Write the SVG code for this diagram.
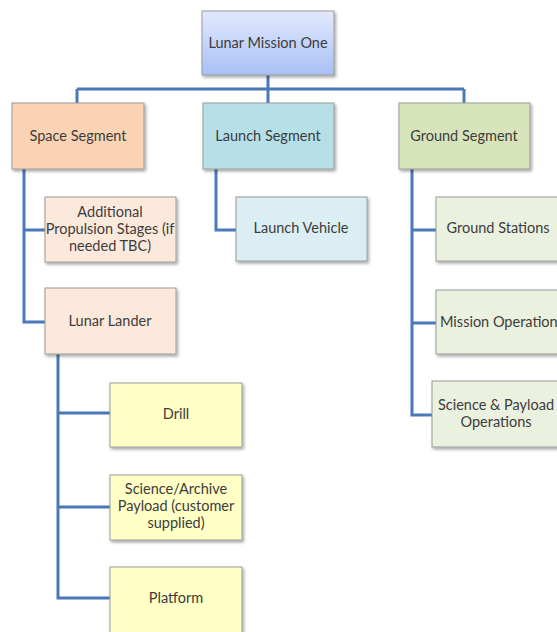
<svg xmlns="http://www.w3.org/2000/svg" width="557" height="632" viewBox="0 0 557 632">
<defs>
<filter id="sh" x="-10%" y="-10%" width="130%" height="130%">
<feDropShadow dx="1.5" dy="2" stdDeviation="1.5" flood-color="#000" flood-opacity="0.35"/>
</filter>
<linearGradient id="gRoot" x1="0" y1="0" x2="0" y2="1">
<stop offset="0" stop-color="#e2e9fc"/><stop offset="1" stop-color="#a8c0f6"/>
</linearGradient>
</defs>
<style>
.box{stroke:#9a9a9a;stroke-width:1;filter:url(#sh)}
.t{font-family:Lato,"Open Sans","Liberation Sans",sans-serif;font-size:14.5px;fill:#3c3c3c;text-anchor:middle}
.c{fill:none;stroke:#4a78b8;stroke-width:3}
.root{fill:url(#gRoot)}
.space{fill:#fad3b4}
.launch{fill:#b7dfe8}
.ground{fill:#d7e4bb}
.spaceC{fill:#fce9db}
.launchC{fill:#dbeef4}
.groundC{fill:#ebf1df}
.yel{fill:#ffffc6}
</style>
<g id="connectors">
<path class="c" d="M268 75V89M77 89H464M77 89V103M268 89V103M464 89V103"/>
<path class="c" d="M24 169V322H45M24 230H45"/>
<path class="c" d="M216 169V230H236"/>
<path class="c" d="M412 169V415H432M412 230H436M412 323H436"/>
<path class="c" d="M58 354V598H110M58 413H110M58 507H110"/>
</g>
<g id="n-root"><rect class="box root" x="202" y="11" width="132" height="64"/><text class="t" x="268" y="48">Lunar Mission One</text></g>
<g id="n-space"><rect class="box space" x="12" y="103" width="132" height="66"/><text class="t" x="78" y="141">Space Segment</text></g>
<g id="n-launch"><rect class="box launch" x="203" y="103" width="131" height="66"/><text class="t" x="268" y="141">Launch Segment</text></g>
<g id="n-ground"><rect class="box ground" x="399" y="103" width="131" height="66"/><text class="t" x="464" y="141">Ground Segment</text></g>
<g id="n-prop"><rect class="box spaceC" x="45" y="197" width="131" height="65"/><text class="t" x="110" y="217">Additional</text><text class="t" x="110" y="234">Propulsion Stages (if</text><text class="t" x="110" y="251">needed TBC)</text></g>
<g id="n-lander"><rect class="box spaceC" x="45" y="288" width="131" height="66"/><text class="t" x="110" y="326">Lunar Lander</text></g>
<g id="n-lv"><rect class="box launchC" x="236" y="197" width="131" height="64"/><text class="t" x="301" y="233">Launch Vehicle</text></g>
<g id="n-gs"><rect class="box groundC" x="436" y="197" width="131" height="64"/><text class="t" x="498" y="233">Ground Stations</text></g>
<g id="n-mo"><rect class="box groundC" x="436" y="290" width="131" height="64"/><text class="t" x="502" y="327">Mission Operations</text></g>
<g id="n-sp"><rect class="box groundC" x="432" y="381" width="131" height="66"/><text class="t" x="496" y="410">Science &amp; Payload</text><text class="t" x="496" y="427">Operations</text></g>
<g id="n-drill"><rect class="box yel" x="110" y="383" width="132" height="64"/><text class="t" x="176" y="419">Drill</text></g>
<g id="n-sci"><rect class="box yel" x="110" y="475" width="132" height="65"/><text class="t" x="176" y="494">Science/Archive</text><text class="t" x="176" y="511">Payload (customer</text><text class="t" x="176" y="528">supplied)</text></g>
<g id="n-plat"><rect class="box yel" x="110" y="567" width="132" height="66"/><text class="t" x="176" y="603">Platform</text></g>
</svg>
